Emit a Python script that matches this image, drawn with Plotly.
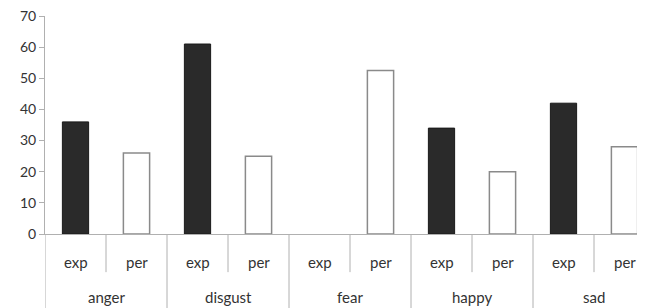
import plotly.graph_objects as go

emotions = ["anger", "disgust", "fear", "happy", "sad"]
sub_labels = ["exp", "per"]
exp_values = [36, 61, None, 34, 42]
per_values = [26, 25, 52.5, 20, 28]
y_ticks = [0, 10, 20, 30, 40, 50, 60, 70]

exp_x = [2 * i for i in range(len(emotions))]
per_x = [2 * i + 1 for i in range(len(emotions))]

fig = go.Figure()
fig.add_trace(go.Bar(x=exp_x, y=exp_values, width=0.43,
                     marker=dict(color="#2a2a2a", line=dict(color="#1a1a1a", width=1))))
fig.add_trace(go.Bar(x=per_x, y=per_values, width=0.43,
                     marker=dict(color="white", line=dict(color="#8a8a8a", width=1.5))))

font = "Lato, Open Sans, sans-serif"
txt_col = "#333333"
shapes = []
annotations = []
line_col = "#b0b0b0"
shapes.append(dict(type="line", xref="x", yref="paper", x0=-0.5, x1=-0.5, y0=0, y1=-0.34,
                   line=dict(color=line_col, width=1)))
for i, emo in enumerate(emotions):
    shapes.append(dict(type="line", xref="x", yref="paper", x0=2 * i + 0.5, x1=2 * i + 0.5,
                       y0=0, y1=-0.175, line=dict(color=line_col, width=1)))
    if i > 0:
        shapes.append(dict(type="line", xref="x", yref="paper", x0=2 * i - 0.5, x1=2 * i - 0.5,
                           y0=0, y1=-0.34, line=dict(color=line_col, width=1)))
    for j, s in enumerate(sub_labels):
        annotations.append(dict(x=2 * i + j, y=-0.13, xref="x", yref="paper", text=s,
                                showarrow=False, font=dict(family=font, size=15, color=txt_col),
                                yanchor="middle"))
    annotations.append(dict(x=2 * i + 0.5, y=-0.29, xref="x", yref="paper", text=emo,
                            showarrow=False, font=dict(family=font, size=15, color=txt_col),
                            yanchor="middle"))

fig.update_layout(
    width=637, height=300,
    margin=dict(l=37, r=0, t=8, b=74),
    plot_bgcolor="white", paper_bgcolor="white",
    showlegend=False,
    shapes=shapes, annotations=annotations,
    xaxis=dict(range=[-0.5, 9.336], showticklabels=False, showgrid=False, zeroline=False,
               showline=True, linecolor=line_col, linewidth=1, ticks=""),
    yaxis=dict(range=[0, 70], tickvals=y_ticks, showgrid=False, zeroline=False,
               showline=True, linecolor=line_col, linewidth=1, ticks="outside", ticklen=5,
               tickcolor=line_col, ticklabeloverflow="allow", automargin=False,
               tickfont=dict(family=font, size=14, color=txt_col)),
)

fig.write_html("out.html")
